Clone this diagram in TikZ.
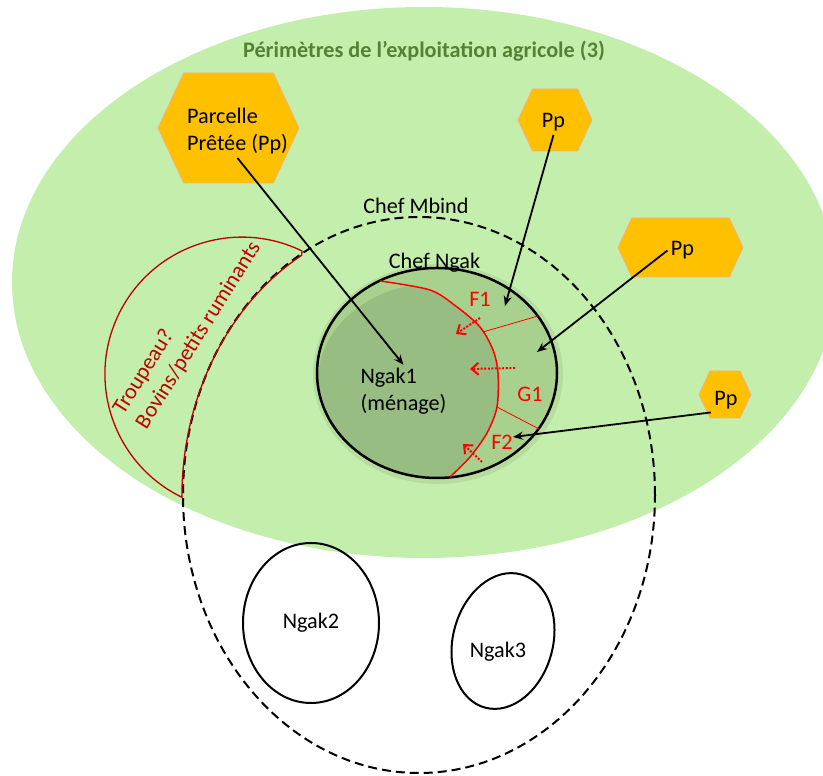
\documentclass[tikz,border=0pt]{standalone}
\usepackage{fontspec}
\setmainfont{Carlito}
\usetikzlibrary{arrows, arrows.meta, positioning, shapes.geometric, shapes.symbols}
\definecolor{vertfond}{RGB}{196,238,172}
\definecolor{vertclair}{RGB}{169,209,142}
\definecolor{vertfonce}{RGB}{152,189,131}
\definecolor{verttitre}{RGB}{84,130,53}
\definecolor{orangepp}{RGB}{255,192,0}
\definecolor{bordpp}{RGB}{244,177,131}
\definecolor{rougetr}{RGB}{192,0,0}
\tikzset{hexa/.style={draw=bordpp, fill=orangepp, line width=0.8pt, signal, signal to=west and east, signal from=nowhere, signal pointer angle=130, inner sep=0pt},
  lien/.style={-{Stealth[length=10pt, width=8pt]}, line width=1.8pt},
  flux/.style={-{Straight Barb[length=7pt, width=12pt]}, red, dash pattern=on 2pt off 1.6pt, line width=2pt},
  zone/.style={text=red},
  menage/.style={draw, ellipse, line width=2pt}}

\begin{document}
\begin{tikzpicture}[x=1pt, y=1pt, font=\fontsize{22.2}{27}\selectfont]
      \useasboundingbox (0,0) rectangle (823,776);
      \clip (0,0) rectangle (823,776);
      \fill[vertfond] (424,493.5) ellipse [x radius=412, y radius=275.5];
      \node[font=\fontsize{22.2}{27}\selectfont\bfseries, text=verttitre] (titre) at (424,725) {Périmètres de l’exploitation agricole (3)};

      \node[draw, ellipse, dash pattern=on 9pt off 5pt, line width=2pt, minimum width=472, minimum height=556] (mbind) at (419,281) {};
      \node[above=-1pt of mbind.north, xshift=-3pt] (chefmbind) {Chef Mbind};

      \draw[rougetr, line width=1.3pt] (302,525) arc[start angle=64, end angle=244, radius=137] arc[start angle=180, end angle=119.5, x radius=236, y radius=278] -- cycle;
      \node[rotate=58, anchor=west, align=left, text=rougetr, inner sep=0pt] (troupeau) at (130,356) {Troupeau?\\Bovins/petits ruminants};

      \fill[black, opacity=0.07] (438,402) ellipse [x radius=125, y radius=110];
      \fill[vertclair] (437,403) ellipse [x radius=120, y radius=105];
      \begin{scope}
            \clip (437,395.5) ellipse [x radius=119, y radius=97.5];
            \fill[vertfonce] plot[smooth] coordinates {(380,495) (430,486) (457,469) (480,449) (493,426) (498,403) (497,369) (487,343) (470,319) (450,299)} -- (450,280) -- (300,280) -- (300,510) -- (380,510) -- cycle;
      \end{scope}
      \node[menage, line width=2.5pt, minimum width=240, minimum height=210] (ngak) at (437,403) {};
      \node[above=-9pt of ngak.north, xshift=-2.5pt] (chefngak) {Chef Ngak};
      \draw[red, line width=1.5pt] plot[smooth] coordinates {(380,495) (430,486) (457,469) (480,449) (493,426) (498,403) (497,369) (487,343) (470,319) (450,299)};
      \draw[red, line width=0.8pt] (483,444) -- (538,460);
      \draw[red, line width=0.8pt] (497,369) -- (539,347);

      \node[align=left] (ngak1) at (403.5,384.5) {Ngak1\\(ménage)};
      \node[zone] (f1) at (480,477) {F1};
      \node[zone] (g1) at (530,382) {G1};
      \node[zone] (f2) at (502,334) {F2};

      % fleches pointillees
      \coordinate (flux1-a) at (480,458); \coordinate (flux1-b) at (456,442);
      \coordinate (flux2-a) at (515,408); \coordinate (flux2-b) at (470,407);
      \coordinate (flux3-a) at (482,314); \coordinate (flux3-b) at (463,332);
      \draw[flux] (flux1-a) -- (flux1-b);
      \draw[flux] (flux2-a) -- (flux2-b);
      \draw[flux] (flux3-a) -- (flux3-b);

      % parcelles pretees
      \node[hexa, minimum width=141, minimum height=110] (parcelle-hex) at (228.5,648) {};
      \node[align=left] (parcelle) at (237.5,644.5) {Parcelle\\Prêtée (Pp)};
      \node[hexa, minimum width=74, minimum height=62] (pp1-hex) at (555,656) {};
      \node (pp1) at (553.5,653.5) {Pp};
      \node[hexa, minimum width=125, minimum height=59] (pp2-hex) at (680.5,528.5) {};
      \node (pp2) at (682.5,525.5) {Pp};
      \node[hexa, minimum width=52, minimum height=47] (pp3-hex) at (725,381.5) {};
      \node (pp3) at (726,376) {Pp};

      \coordinate (f1-fin) at (505,470);
      \coordinate (g1-fin) at (537,424);
      \coordinate (f2-fin) at (513,339);
      \draw[lien] (parcelle.south) -- (ngak1.north);
      \draw[lien] (pp1.south) -- (f1-fin);
      \draw[lien] (pp2.west) -- (g1-fin);
      \draw[lien] (pp3.south west) -- (f2-fin);

      \node[menage, minimum width=136, minimum height=160] (ngak2) at (311,153) {Ngak2};
      \draw[line width=2pt, rotate around={-15:(503,135)}] (503,135) ellipse [x radius=50, y radius=69];
      \node (ngak3) at (498,124) {Ngak3};
\end{tikzpicture}
\end{document}
